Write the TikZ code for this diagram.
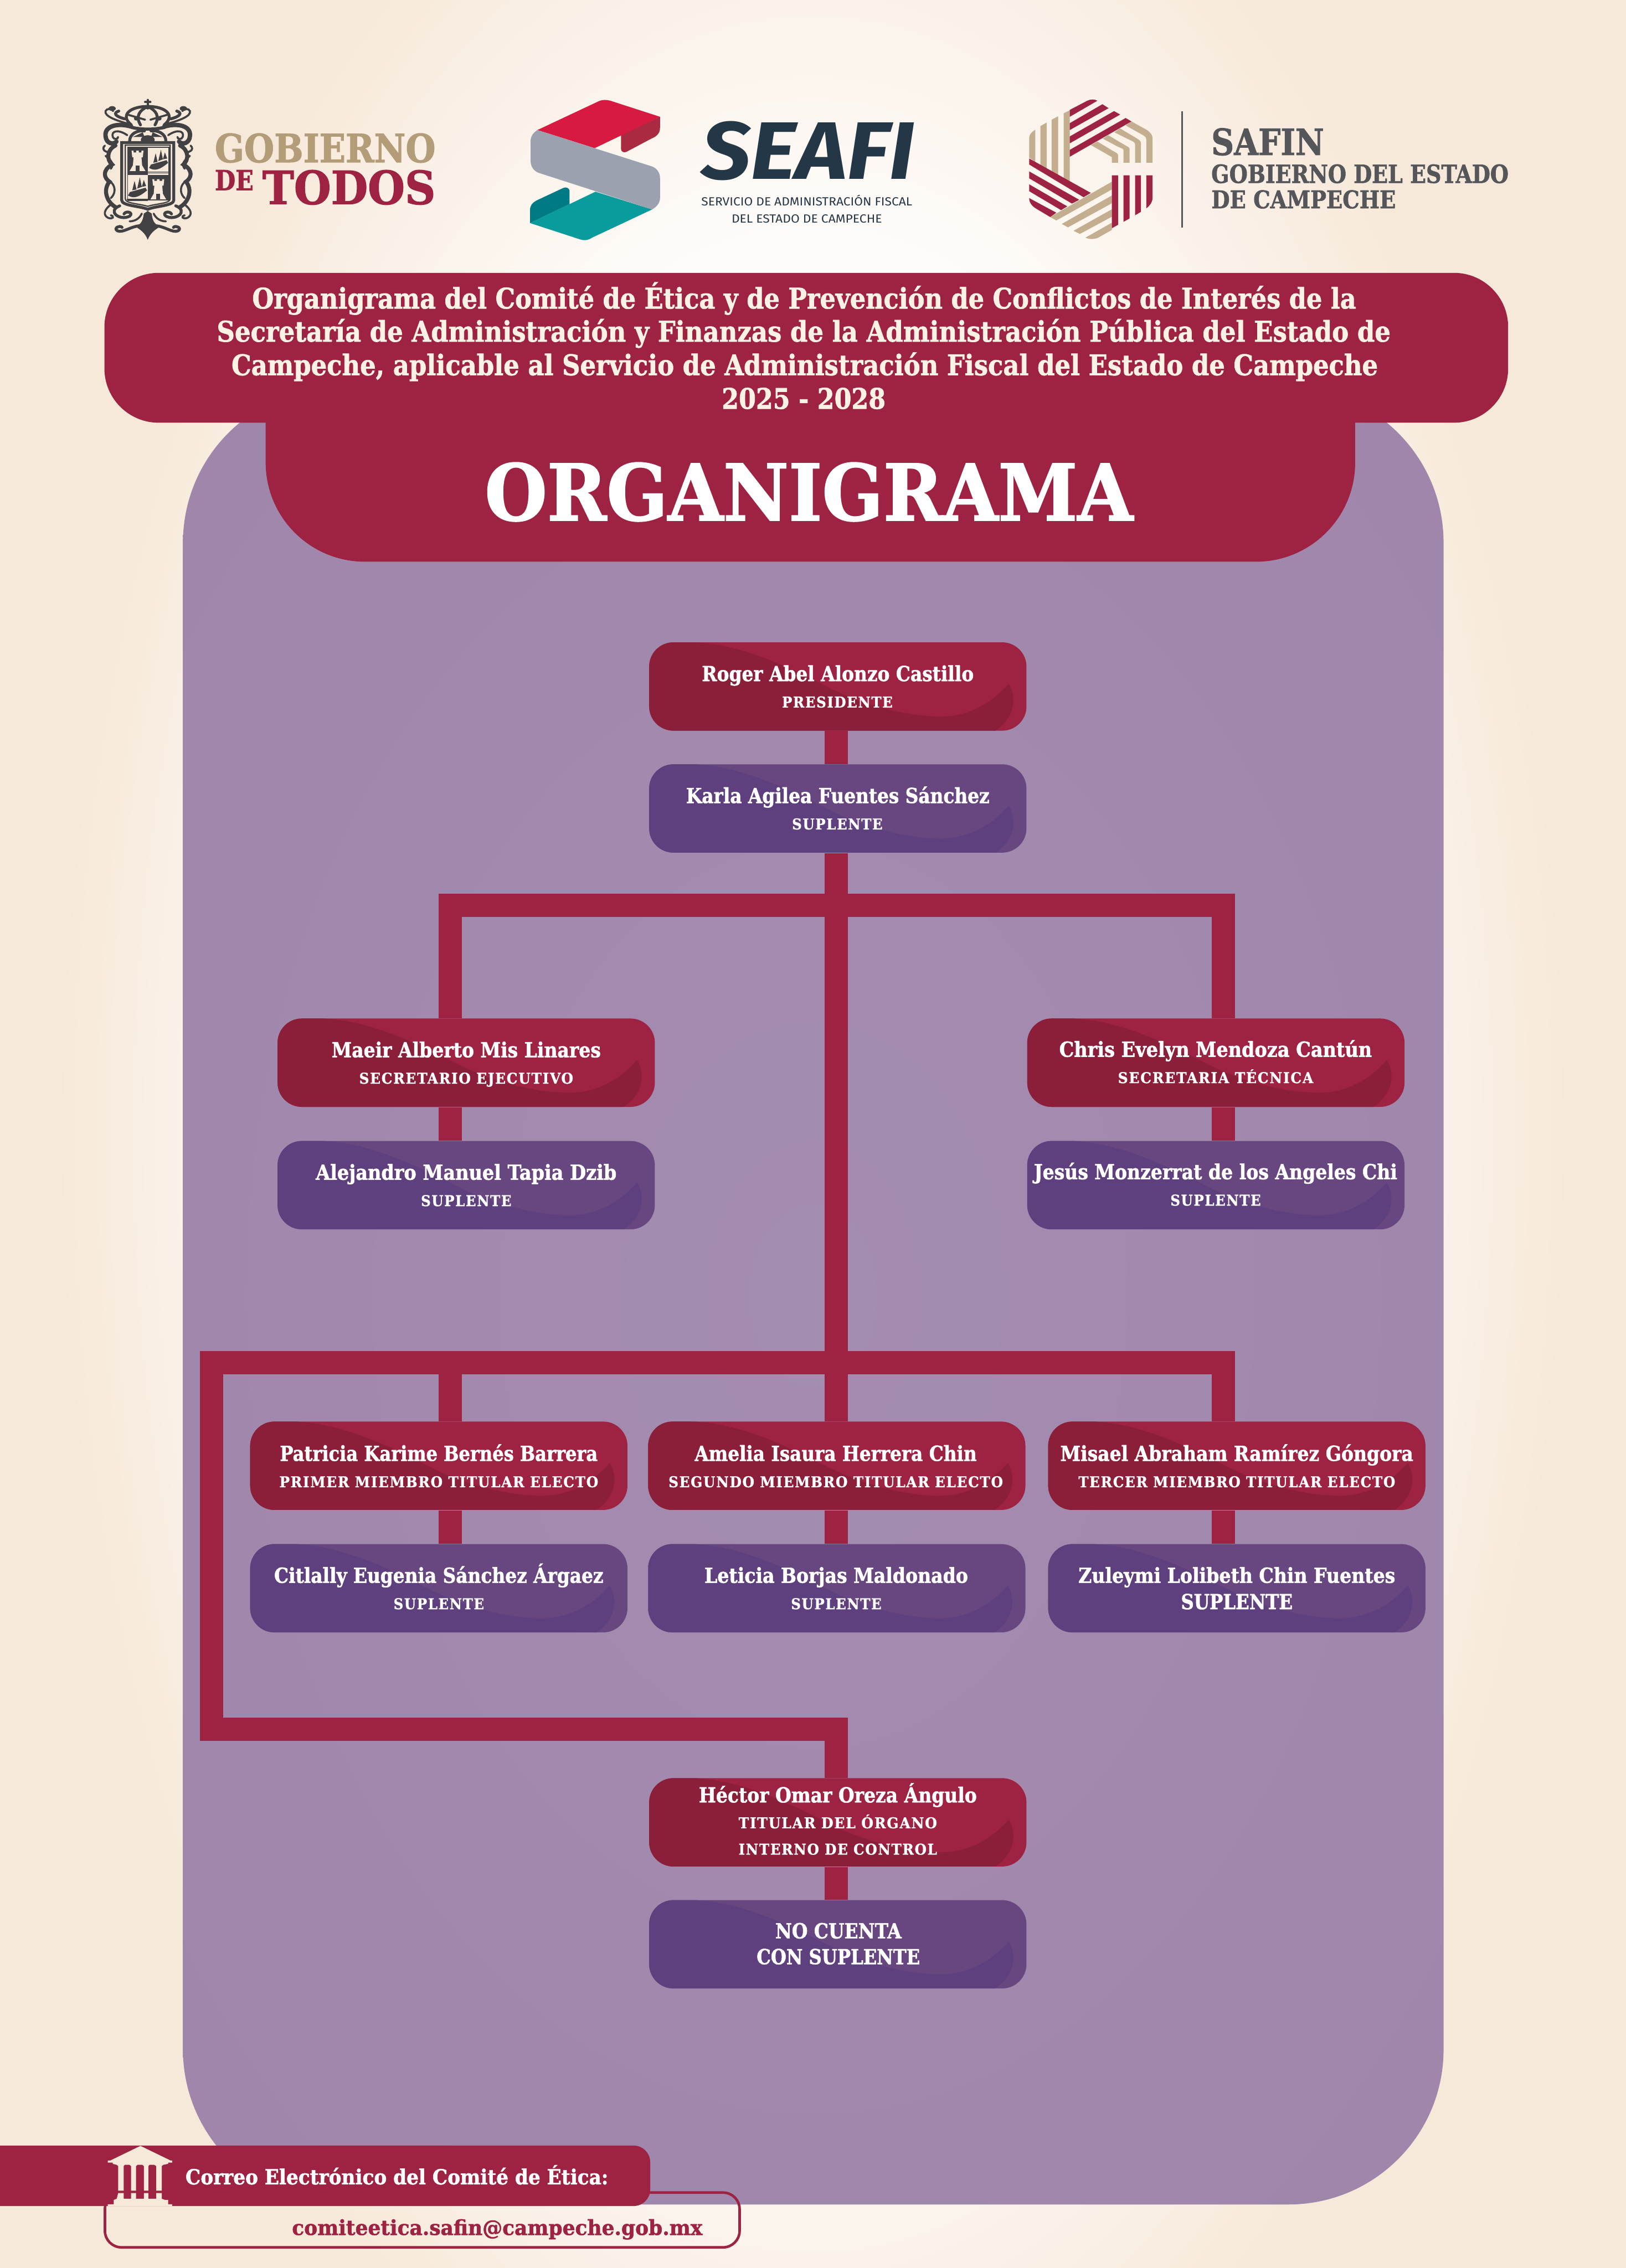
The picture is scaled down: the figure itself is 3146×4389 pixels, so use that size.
\documentclass[tikz,border=0pt]{standalone}
\usepackage{graphicx}
\usepackage{fontspec}
\setmainfont{DejaVu Serif Condensed}[BoldFeatures={FakeBold=1.4}]
\newfontfamily\rolefont[LetterSpace=6,BoldFeatures={FakeBold=1.0}]{DejaVu Serif Condensed}
\newfontfamily\seafifont{Fira Sans}
\usetikzlibrary{calc}
\newlength\px \setlength\px{0.01cm}
\definecolor{burg}{HTML}{9E2241}
\definecolor{burgdark}{HTML}{8B1F3A}
\definecolor{plum}{HTML}{68467F}
\definecolor{plumdark}{HTML}{5F407F}
\definecolor{bgin}{HTML}{FEFBF8}
\definecolor{bgout}{HTML}{F7E9DA}
\definecolor{cream}{HTML}{FBF1E5}
\definecolor{tan}{HTML}{B39C78}
\definecolor{tanlite}{HTML}{C3AE90}
\definecolor{armdark}{HTML}{414042}
\definecolor{greytxt}{HTML}{54565A}
\definecolor{seafitxt}{HTML}{243746}
\definecolor{pa}{HTML}{A38DB1}
\definecolor{pb}{HTML}{9F86AA}
\definecolor{pc}{HTML}{9C81A7}
\pgfdeclareradialshading{panelsh}{\pgfpoint{0bp}{0bp}}{color(0bp)=(pa); color(35bp)=(pb); color(50bp)=(pc); color(100bp)=(pc)}
\newcommand\fitw[2]{\resizebox{#1\px}{\height}{#2}}
\newcommand\fitb[3]{\resizebox{#1\px}{#2\px}{#3}}
\newcommand\namefont{\fontsize{11.4}{13}\selectfont\bfseries}
\newcommand\rolef{\rolefont\fontsize{8.2}{10}\selectfont\bfseries}
\tikzset{
  boxbase/.style={rectangle, rounded corners=47\px, minimum width=730\px, minimum height=171\px, inner sep=0pt},
  redbox/.style={boxbase, fill=burg},
  plumbox/.style={boxbase, fill=plum},
  conn/.style={draw=burg, line width=45\px, line join=miter},
  txt/.style={inner sep=0pt, anchor=base, text=white},
  txtw/.style={inner sep=0pt, anchor=base west},
  arm/.style={draw=armdark, line width=1.1pt, line cap=round},
}
% name, box style, wave colour, centre x, centre y
\newcommand\obox[5]{%
  \node[#2] (#1) at (#4,#5) {};
  \begin{scope}
    \clip[rounded corners=47\px] (#4-365,#5-85.5) rectangle (#4+365,#5+85.5);
    \begin{scope}[shift={(#4-365,#5-85.5)},xscale=730,yscale=171]
      \fill[#3] (.12,0) .. controls (.24,.02) and (.36,.26) .. (.474,.508)
        .. controls (.56,.70) and (.68,.84) .. (.772,.84)
        .. controls (.85,.84) and (.91,.68) .. (.953,.469)
        .. controls (.975,.62) and (.97,.85) .. (.918,1) -- (0,1) -- (0,0) -- cycle;
    \end{scope}
  \end{scope}}
\newcommand\nm[5]{\node[txt] (#1) at (#2,#3) {\namefont\fitw{#4}{#5}};}
\newcommand\rl[5]{\node[txt] (#1) at (#2,#3) {\rolef\fitw{#4}{#5}};}
\begin{document}
\begin{tikzpicture}[x=0.01cm,y=-0.01cm]
\useasboundingbox (0,0) rectangle (3146,4389);
% background
\fill[bgout] (0,0) rectangle (3146,4389);
\begin{scope}
  \clip (0,0) rectangle (3146,4389);
  \foreach \i in {1,...,24}{
    \pgfmathsetmacro\rr{1-0.35*(\i-1)/23}
    \pgfmathsetmacro\mix{100*\i/24}
    \fill[bgin!\mix!bgout] (1573,2195) ellipse ({1450*\rr} and {2700*\rr});
  }
\end{scope}
% panel
\shade[shading=panelsh, rounded corners=300\px] (354,750) rectangle (2793,4266);
% banners
\fill[burg, rounded corners=192\px] (514,600) rectangle (2622,1087);
\fill[burg, rounded corners=105\px] (202,528) rectangle (2918,818);
\node[txt,text=cream] (t1) at (1556,597) {\fontsize{15.6}{18}\selectfont\bfseries\fitw{2136}{Organigrama del Comité de Ética y de Prevención de Conflictos de Interés de la}};
\node[txt,text=cream] (t2) at (1555,661) {\fontsize{15.6}{18}\selectfont\bfseries\fitw{2271}{Secretaría de Administración y Finanzas de la Administración Pública del Estado de}};
\node[txt,text=cream] (t3) at (1557,726) {\fontsize{15.6}{18}\selectfont\bfseries\fitw{2218}{Campeche, aplicable al Servicio de Administración Fiscal del Estado de Campeche}};
\node[txt,text=cream] (t4) at (1555,791) {\fontsize{15.6}{18}\selectfont\bfseries\fitw{317}{2025 - 2028}};
\node[txt] (org) at (1565,1007) {\fontsize{42}{46}\selectfont\bfseries\fitb{1254}{112}{ORGANIGRAMA}};

% ---- coat of arms
\begin{scope}[shift={(150,150)},xscale=.6378,yscale=.3333]
  \foreach \m in {1,-1}{
  \begin{scope}[shift={(213,0)},xscale=\m]
    \draw[arm,line width=2.4pt] (-50,285) .. controls (-90,262) and (-132,280) .. (-128,340) .. controls (-126,385) and (-104,392) .. (-95,372);
    \draw[arm] (-62,335) .. controls (-90,298) and (-112,310) .. (-106,345) .. controls (-103,362) and (-90,360) .. (-90,345);
    \draw[arm,line width=2.2pt] (-98,395) .. controls (-125,420) and (-125,480) .. (-108,505) .. controls (-140,540) and (-132,585) .. (-116,605) .. controls (-136,650) and (-126,720) .. (-98,752);
    \draw[arm] (-130,395) .. controls (-145,420) and (-120,445) .. (-112,425);
    \draw[arm] (-128,455) .. controls (-112,480) and (-100,500) .. (-112,530);
    \draw[arm] (-110,610) .. controls (-95,640) and (-100,680) .. (-112,700);
    \draw[arm,line width=1.6pt] (-85,745) .. controls (-125,775) and (-85,835) .. (-55,805) .. controls (-42,785) and (-65,770) .. (-72,792);
    \draw[arm] (-110,735) .. controls (-135,770) and (-135,800) .. (-120,815) .. controls (-105,825) and (-100,805) .. (-112,800);
    \draw[arm,line width=1.6pt] (-18,860) .. controls (-50,860) and (-75,905) .. (-92,890) .. controls (-105,875) and (-85,855) .. (-78,870);
    \draw[arm] (-18,790) .. controls (-25,820) and (-40,835) .. (-55,835);
    \fill[armdark] (0,942) .. controls (-8,900) and (-25,880) .. (-38,865) .. controls (-25,855) and (-15,845) .. (-12,790) -- (0,775) -- cycle;
    \draw[arm] (-60,268) .. controls (-95,250) and (-132,225) .. (-128,195) .. controls (-125,178) and (-108,178) .. (-105,195);
    \draw[arm,line width=1.6pt] (-70,240) .. controls (-100,225) and (-105,205) .. (-88,195);
    \fill[armdark] (-108,180) circle [x radius=11,y radius=14];
    % crown
    \draw[arm,line width=1.6pt] (-50,275) .. controls (-85,220) and (-55,168) .. (0,168);
    \draw[arm,line width=1.6pt] (-22,275) .. controls (-38,225) and (-25,190) .. (0,168);
    \draw[arm] (-62,215) -- (-8,245);
    \fill[armdark] (-35,238) circle [x radius=7,y radius=12];
    % eagle wings
    \draw[arm,line width=1.6pt] (-10,310) .. controls (-30,305) and (-55,325) .. (-55,370);
    \fill[armdark] (-45,345) -- (-15,318) -- (-10,345) -- cycle;
    \fill[armdark] (-20,372) .. controls (-25,345) and (-10,335) .. (0,335) -- (0,372) -- cycle;
    % shield half outlines
    \draw[arm,line width=1.6pt] (0,378) -- (-79,378) -- (-79,712) .. controls (-79,745) and (-25,745) .. (0,765);
    \draw[arm,line width=.7pt] (0,392) -- (-68,392) -- (-68,705) .. controls (-68,732) and (-25,732) .. (0,748);
  \end{scope}}
  \fill[armdark] (162,278) .. controls (190,295) and (236,295) .. (266,278) -- (266,298) .. controls (236,312) and (190,312) .. (162,298) -- cycle;
  \draw[arm,line width=1.2pt] (213,130) -- (213,170) (205,142) -- (221,142);
  \fill[armdark] (213,172) circle [x radius=7,y radius=14];
  % quarters
  \fill[armdark] (152,405) rectangle (213,565);
  \fill[armdark] (213,565) rectangle (277,712);
  \draw[armdark,line width=.5pt] (152,405) rectangle (277,712);
  \foreach \tx/\ty in {182/425,245/590}{
    \fill[bgout] (\tx-18,\ty) -- (\tx-12,\ty) -- (\tx-12,\ty+10) -- (\tx-4,\ty+10) -- (\tx-4,\ty) -- (\tx+4,\ty) -- (\tx+4,\ty+10) -- (\tx+12,\ty+10) -- (\tx+12,\ty) -- (\tx+18,\ty) -- (\tx+16,\ty+38) -- (\tx+12,\ty+38) -- (\tx+14,\ty+85) -- (\tx+24,\ty+118) -- (\tx-24,\ty+118) -- (\tx-14,\ty+85) -- (\tx-12,\ty+38) -- (\tx-16,\ty+38) -- cycle;
    \fill[armdark] (\tx-6,\ty+118) -- (\tx-6,\ty+85) -- (\tx+6,\ty+85) -- (\tx+6,\ty+118) -- cycle;
  }
  \foreach \sx/\sy in {245/420,181/580}{
    \fill[armdark] (\sx-28,\sy+105) .. controls (\sx-10,\sy+125) and (\sx+5,\sy+115) .. (\sx+30,\sy+75) -- (\sx+25,\sy+60) -- (\sx-22,\sy+85) -- cycle;
    \fill[armdark] (\sx-15,\sy+75) -- (\sx-8,\sy+20) -- (\sx-2,\sy+70) -- cycle;
    \fill[armdark] (\sx,\sy+65) -- (\sx+8,\sy) -- (\sx+14,\sy+55) -- cycle;
    \fill[armdark] (\sx+14,\sy+55) -- (\sx+20,\sy+15) -- (\sx+27,\sy+50) -- cycle;
    \draw[armdark,line width=.5pt] (\sx-32,\sy+128) -- (\sx+32,\sy+128) (\sx-32,\sy+135) -- (\sx+32,\sy+135);
  }
\end{scope}

\node[txtw,text=tan] (gob) at (415,314) {\fontsize{20}{22}\selectfont\bfseries\fitb{427}{56}{GOBIERNO}};
\node[txtw,text=burg] (de) at (415,368) {\fontsize{14}{16}\selectfont\bfseries\fitb{75}{39}{DE}};
\node[txtw,text=burg] (todos) at (507,395) {\fontsize{24}{26}\selectfont\bfseries\fitb{335}{66}{TODOS}};

% ---- SEAFI emblem
\begin{scope}[shift={(1000,170)},xscale=.5102,yscale=.3333]
  \fill[fill={rgb,255:red,169;green,42;blue,65}] (543,168) -- (543,230) .. controls (543,265) and (530,282) .. (510,295) -- (415,372) .. controls (405,378) and (395,370) .. (395,355) -- (395,272) -- cycle;
  \fill[fill={rgb,255:red,215;green,26;blue,64}] (78,245) -- (310,78) .. controls (325,68) and (340,68) .. (355,75) -- (543,168) -- (295,350) -- cycle;
  \fill[fill={rgb,255:red,0;green,123;blue,133}] (50,785) -- (50,710) .. controls (50,680) and (60,665) .. (80,650) -- (175,582) .. controls (190,572) and (200,585) .. (200,600) -- (200,675) -- cycle;
  \fill[fill={rgb,255:red,10;green,156;blue,156}] (298,603) -- (513,706) -- (285,870) .. controls (270,885) and (255,888) .. (240,880) -- (50,785) -- cycle;
  \fill[fill={rgb,255:red,155;green,161;blue,174}] (78,245) .. controls (60,262) and (52,285) .. (52,310) -- (52,420) .. controls (52,460) and (65,487) .. (90,497) -- (513,706) .. controls (532,690) and (543,665) .. (543,640) -- (543,525) .. controls (543,490) and (530,465) .. (510,455) -- cycle;
\end{scope}
\node[txtw,text=seafitxt] (seafi) at (1356,347) {\seafifont\fontsize{30}{32}\selectfont\bfseries\itshape\fitb{413}{112}{SEAFI}};
\node[txt,text=seafitxt] (seafi1) at (1561,398) {\seafifont\fontsize{6.5}{8}\selectfont\fitw{408}{SERVICIO DE ADMINISTRACIÓN FISCAL}};
\node[txt,text=seafitxt] (seafi2) at (1561,431) {\seafifont\fontsize{6.5}{8}\selectfont\fitw{291}{DEL ESTADO DE CAMPECHE}};

% ---- SAFIN emblem
\begin{scope}[shift={(1900,150)},xscale=.7018,yscale=.3333]
  \foreach \p in {
    {(130,465) -- (130,350) .. controls (130,330) and (138,315) .. (147,303) -- (147,490) -- cycle},
    {(161,525) -- (161,282) -- (178,262) -- (178,545) -- cycle},
    {(192,562) -- (192,245) -- (210,225) -- (210,582) -- cycle},
    {(225,600) -- (225,208) -- (242,190) -- (242,622) -- cycle},
    {(188,810) -- (358,605) -- (358,650) -- (205,830) -- cycle},
    {(220,850) -- (358,685) -- (358,730) -- (237,870) -- cycle},
    {(252,890) -- (358,765) -- (358,808) -- (270,908) -- cycle},
    {(285,930) -- (358,843) -- (358,885) -- (320,930) .. controls (310,940) and (295,940) .. (285,930) -- cycle},
    {(412,255) -- (455,305) .. controls (465,320) and (470,335) .. (470,350) -- (470,495) -- (453,495) -- (453,360) .. controls (453,345) and (447,338) .. (440,330) -- (396,278) -- cycle},
    {(380,295) -- (424,350) .. controls (432,360) and (438,368) .. (438,380) -- (438,495) -- (422,495) -- (422,388) .. controls (422,375) and (415,370) .. (405,360) -- (365,318) -- cycle},
    {(348,335) -- (392,390) .. controls (400,400) and (407,405) .. (407,415) -- (407,495) -- (390,495) -- (390,422) .. controls (390,412) and (382,410) .. (375,402) -- (333,355) -- cycle},
    {(318,372) -- (360,425) .. controls (368,435) and (375,440) .. (375,450) -- (375,495) -- (358,495) -- (358,462) -- (300,392) -- cycle}}
    {\fill[tanlite] \p;}
  \foreach \p in {
    {(242,228) -- (242,188) -- (290,135) .. controls (300,125) and (310,125) .. (318,135) -- cycle},
    {(242,305) -- (242,265) -- (332,155) -- (349,178) -- cycle},
    {(242,382) -- (242,342) -- (364,195) -- (381,215) -- cycle},
    {(242,460) -- (242,420) -- (396,235) -- (412,255) -- cycle},
    {(130,470) -- (130,505) -- (280,695) -- (300,670) -- cycle},
    {(130,545) -- (130,585) -- (248,732) -- (268,710) -- cycle},
    {(130,620) -- (130,660) -- (218,770) -- (235,748) -- cycle},
    {(130,700) .. controls (130,730) and (140,750) .. (150,762) -- (188,810) -- (205,785) -- cycle},
    {(358,568) -- (375,568) -- (375,855) -- (358,875) -- cycle},
    {(390,568) -- (407,568) -- (407,818) -- (390,838) -- cycle},
    {(422,568) -- (438,568) -- (438,780) -- (422,800) -- cycle},
    {(453,568) -- (470,568) -- (470,700) .. controls (470,725) and (462,745) .. (453,760) -- cycle}}
    {\fill[burg] \p;}
  \coordinate (vt) at (552,195);
  \coordinate (vb) at (552,870);
  \draw[greytxt,line width=3\px] (vt) -- (vb);
\end{scope}
\node[txtw,text=greytxt] (safin) at (2343,300) {\fontsize{18}{20}\selectfont\bfseries\fitb{218}{52}{SAFIN}};
\node[txtw,text=greytxt] (gobe) at (2343,354) {\fontsize{13}{15}\selectfont\bfseries\fitb{575}{36}{GOBIERNO DEL ESTADO}};
\node[txtw,text=greytxt] (decam) at (2343,403) {\fontsize{13}{15}\selectfont\bfseries\fitb{357}{35}{DE CAMPECHE}};

% ---- boxes
\obox{pres}{redbox}{burgdark}{1621}{1328.5}
\obox{supp}{plumbox}{plumdark}{1621}{1564.5}
\obox{maeir}{redbox}{burgdark}{902}{2056.5}
\obox{alej}{plumbox}{plumdark}{902}{2293.5}
\obox{chris}{redbox}{burgdark}{2352.5}{2056.5}
\obox{jesus}{plumbox}{plumdark}{2352.5}{2293.5}
\obox{patri}{redbox}{burgdark}{849}{2836.5}
\obox{citla}{plumbox}{plumdark}{849}{3073.5}
\obox{ameli}{redbox}{burgdark}{1619}{2836.5}
\obox{letic}{plumbox}{plumdark}{1619}{3073.5}
\obox{misae}{redbox}{burgdark}{2393}{2836.5}
\obox{zuley}{plumbox}{plumdark}{2393}{3073.5}
\obox{hecto}{redbox}{burgdark}{1621}{3526.5}
\obox{nocue}{plumbox}{plumdark}{1621}{3762.5}

% ---- connectors
\coordinate (tx) at (1617.5,0);
\coordinate (lx) at (871.5,0);
\coordinate (rx) at (2367.5,0);
\coordinate (jone) at (1617.5,1751.5);
\coordinate (jtwo) at (871.5,2636.5);
\coordinate (otl) at (409.5,2636.5);
\coordinate (obl) at (409.5,3346.5);
\draw[conn] (pres.south -| tx) -- (supp.north -| tx);
\draw[conn] (supp.south -| tx) -- (ameli.north -| tx);
\draw[conn] (maeir.north -| lx) |- (jone) -| (chris.north -| rx);
\draw[conn] (maeir.south -| lx) -- (alej.north -| lx);
\draw[conn] (chris.south -| rx) -- (jesus.north -| rx);
\draw[conn] (misae.north -| rx) |- (otl) -- (obl) -| (hecto.north -| tx);
\draw[conn] (jtwo) -- (patri.north -| lx);
\draw[conn] (patri.south -| lx) -- (citla.north -| lx);
\draw[conn] (ameli.south -| tx) -- (letic.north -| tx);
\draw[conn] (misae.south -| rx) -- (zuley.north -| rx);
\draw[conn] (hecto.south -| tx) -- (nocue.north -| tx);

% ---- box texts
\nm{a1}{1621}{1318}{526}{Roger Abel Alonzo Castillo}
\rl{a2}{1620}{1369}{214}{PRESIDENTE}
\nm{b1}{1621}{1554}{587}{Karla Agilea Fuentes Sánchez}
\rl{b2}{1620}{1605}{175}{SUPLENTE}
\nm{c1}{902}{2046}{521}{Maeir Alberto Mis Linares}
\rl{c2}{902}{2097}{414}{SECRETARIO EJECUTIVO}
\nm{d1}{902}{2283}{582}{Alejandro Manuel Tapia Dzib}
\rl{d2}{902}{2334}{175}{SUPLENTE}
\nm{e1}{2352}{2045}{605}{Chris Evelyn Mendoza Cantún}
\rl{e2}{2352}{2096}{378}{SECRETARIA TÉCNICA}
\nm{f1}{2352}{2282}{703}{Jesús Monzerrat de los Angeles Chi}
\rl{f2}{2352}{2333}{175}{SUPLENTE}
\nm{g1}{849}{2827}{615}{Patricia Karime Bernés Barrera}
\rl{g2}{849}{2878}{617}{PRIMER MIEMBRO TITULAR ELECTO}
\nm{h1}{849}{3063}{637}{Citlally Eugenia Sánchez Árgaez}
\rl{h2}{849}{3114}{175}{SUPLENTE}
\nm{i1}{1617}{2827}{546}{Amelia Isaura Herrera Chin}
\rl{i2}{1617}{2878}{647}{SEGUNDO MIEMBRO TITULAR ELECTO}
\nm{j1}{1618}{3063}{510}{Leticia Borjas Maldonado}
\rl{j2}{1618}{3114}{175}{SUPLENTE}
\nm{k1}{2393}{2827}{683}{Misael Abraham Ramírez Góngora}
\rl{k2}{2393}{2878}{613}{TERCER MIEMBRO TITULAR ELECTO}
\nm{l1}{2393}{3063}{613}{Zuleymi Lolibeth Chin Fuentes}
\nm{l2}{2393}{3114}{216}{SUPLENTE}
\nm{m1}{1621}{3488}{538}{Héctor Omar Oreza Ángulo}
\rl{m2}{1621}{3538}{384}{TITULAR DEL ÓRGANO}
\rl{m3}{1621}{3589}{384}{INTERNO DE CONTROL}
\nm{n1}{1622}{3751}{244}{NO CUENTA}
\nm{n2}{1622}{3801}{316}{CON SUPLENTE}

% ---- footer
\draw[burg,line width=5\px,rounded corners=32\px] (203,4243) rectangle (1431,4349);
\fill[burg,rounded corners=32\px] (-80,4152) rectangle (1258,4269);
\begin{scope}[shift={(0,4100)},xscale=.9569,yscale=.3333]
  \fill[bgout] (284,158) -- (345,243) -- (348,243) -- (348,255) -- (340,255) -- (340,262) -- (330,268) -- (327,275) -- (327,418) -- (316,418) -- (316,275) -- (312,268) -- (302,268) -- (300,275) -- (300,418) -- (291,418) -- (291,275) -- (288,268) -- (278,268) -- (275,275) -- (275,418) -- (265,418) -- (265,275) -- (262,268) -- (252,268) -- (250,275) -- (250,418) -- (239,418) -- (239,275) -- (236,268) -- (228,262) -- (228,255) -- (218,255) -- (218,243) -- (223,243) -- cycle;
  \fill[bgout] (239,432) -- (250,432) -- (250,465) -- (265,465) -- (265,432) -- (275,432) -- (275,465) -- (291,465) -- (291,432) -- (300,432) -- (300,465) -- (316,465) -- (316,432) -- (327,432) -- (327,465) -- (334,472) -- (340,472) -- (340,497) -- (348,497) -- (348,507) -- (218,507) -- (218,497) -- (230,497) -- (230,472) -- (236,465) -- cycle;
\end{scope}
\node[txt] (fa) at (768,4227) {\namefont\fitw{818}{Correo Electrónico del Comité de Ética:}};
\node[txt,text=burg] (fb) at (962,4325) {\namefont\fitw{794}{comiteetica.safin@campeche.gob.mx}};
\end{tikzpicture}
\end{document}
